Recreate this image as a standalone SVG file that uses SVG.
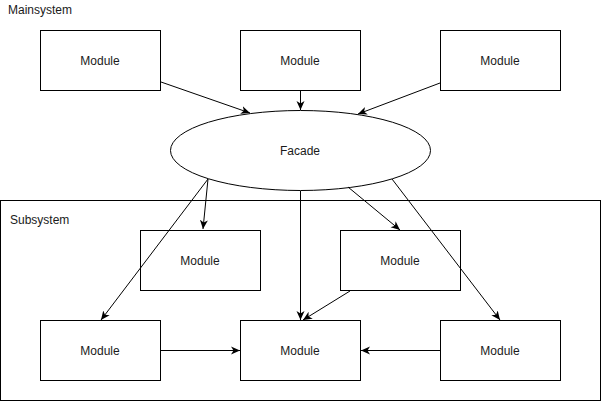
<svg xmlns="http://www.w3.org/2000/svg" width="602" height="402" viewBox="0 0 602 402">
<style>
.box{fill:#fff;stroke:#000;stroke-width:1}
.lbl{font-family:"Liberation Sans",Arial,sans-serif;font-size:12px;fill:#1a1a1a;text-anchor:middle;dominant-baseline:central}
.title{font-family:"Liberation Sans",Arial,sans-serif;font-size:12px;fill:#1a1a1a}
.edge{fill:none;stroke:#000;stroke-width:1}
</style>
<defs>
<marker id="arr" markerUnits="userSpaceOnUse" markerWidth="10" markerHeight="10" viewBox="0 0 10 8" refX="9" refY="4" orient="auto">
<path d="M0,0 L9,4 L0,8 L2.5,4 z" fill="#000"/>
</marker>
</defs>
<rect width="602" height="402" fill="#fff"/>
<g id="mainsystem-label"><text class="title" x="8" y="14">Mainsystem</text></g>
<g id="subsystem">
<rect class="box" x="0.5" y="200.5" width="600" height="200"/>
<text class="title" x="10" y="224">Subsystem</text>
</g>
<g id="m1"><rect class="box" x="40.5" y="30.5" width="120" height="60"/><text class="lbl" x="100" y="61">Module</text></g>
<g id="m2"><rect class="box" x="240.5" y="30.5" width="120" height="60"/><text class="lbl" x="300" y="61">Module</text></g>
<g id="m3"><rect class="box" x="440.5" y="30.5" width="120" height="60"/><text class="lbl" x="500" y="61">Module</text></g>
<g id="facade"><ellipse class="box" cx="300.5" cy="150.5" rx="130" ry="40"/><text class="lbl" x="300" y="151">Facade</text></g>
<g id="s1"><rect class="box" x="140.5" y="230.5" width="120" height="60"/><text class="lbl" x="200" y="261">Module</text></g>
<g id="s2"><rect class="box" x="340.5" y="230.5" width="120" height="60"/><text class="lbl" x="400" y="261">Module</text></g>
<g id="s3"><rect class="box" x="40.5" y="320.5" width="120" height="60"/><text class="lbl" x="100" y="351">Module</text></g>
<g id="s4"><rect class="box" x="240.5" y="320.5" width="120" height="60"/><text class="lbl" x="300" y="351">Module</text></g>
<g id="s5"><rect class="box" x="440.5" y="320.5" width="120" height="60"/><text class="lbl" x="500" y="351">Module</text></g>
<g id="connectors">
<path class="edge" marker-end="url(#arr)" d="M161,82 L250,113"/>
<path class="edge" marker-end="url(#arr)" d="M300.5,91 L300.5,110"/>
<path class="edge" marker-end="url(#arr)" d="M440,83 L358,114"/>
<path class="edge" marker-end="url(#arr)" d="M208,179 L101,320"/>
<path class="edge" marker-end="url(#arr)" d="M208,179 L203,229"/>
<path class="edge" marker-end="url(#arr)" d="M300.5,191 L300.5,320"/>
<path class="edge" marker-end="url(#arr)" d="M348,187 L400,230"/>
<path class="edge" marker-end="url(#arr)" d="M392,179 L500,320"/>
<path class="edge" marker-end="url(#arr)" d="M350,291 L303,320"/>
<path class="edge" marker-end="url(#arr)" d="M161,350.5 L240,350.5"/>
<path class="edge" marker-end="url(#arr)" d="M440,350.5 L361,350.5"/>
</g>
</svg>
